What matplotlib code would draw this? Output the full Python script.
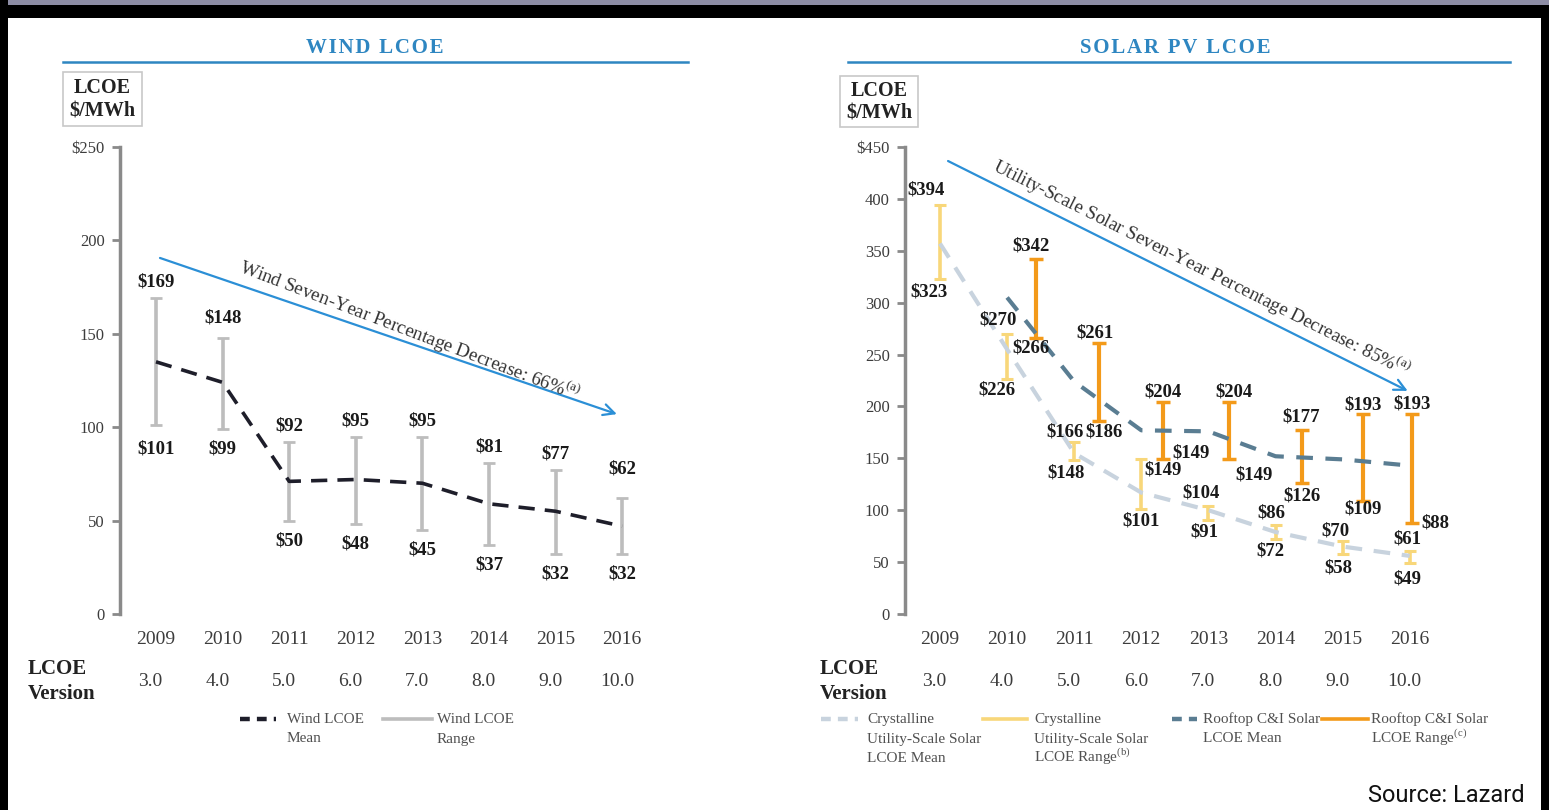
import matplotlib
matplotlib.use('Agg')
import matplotlib.pyplot as plt
import numpy as np
from matplotlib.lines import Line2D
from matplotlib.patches import Rectangle

plt.rcParams['font.family'] = ['Liberation Serif', 'DejaVu Serif']
plt.rcParams['mathtext.fontset'] = 'stix'

# ---------------- data ----------------
years = ['2009', '2010', '2011', '2012', '2013', '2014', '2015', '2016']
versions = ['3.0', '4.0', '5.0', '6.0', '7.0', '8.0', '9.0', '10.0']

wind_high = [169, 148, 92, 95, 95, 81, 77, 62]
wind_low = [101, 99, 50, 48, 45, 37, 32, 32]
wind_mean = [135, 124, 71, 72, 70, 59, 55, 47]

util_high = [394, 270, 166, 149, 104, 86, 70, 61]
util_low = [323, 226, 148, 101, 91, 72, 58, 49]
util_mean = [357, 255, 155, 117, 100, 79, 65, 56]

roof_high = [np.nan, 342, 261, 204, 204, 177, 193, 193]
roof_low = [np.nan, 266, 186, 149, 149, 126, 109, 88]
roof_mean = [np.nan, 305, 224, 177, 176, 152, 149, 143]

wind_yticks = [0, 50, 100, 150, 200, 250]
wind_yticklabels = ['0', '50', '100', '150', '200', '$250']
solar_yticks = [0, 50, 100, 150, 200, 250, 300, 350, 400, 450]
solar_yticklabels = ['0', '50', '100', '150', '200', '250', '300', '350', '400', '$450']

# ---------------- style ----------------
BLUE = '#2E86C1'
ARROW = '#2B8FD6'
GREY_BAR = '#BDBDBD'
WIND_MEAN = '#1E1E2A'
YELLOW = '#F8D77A'
ORANGE = '#F39A1A'
UTIL_MEAN = '#C8D3DE'
ROOF_MEAN = '#5A7D92'
AXIS = '#8a8a8a'
TXT = '#3c3c3c'
HS = '\u200a'

W, H = 1549, 810
fig = plt.figure(figsize=(W / 100, H / 100), dpi=100)
fig.patch.set_facecolor('white')


def fx(p):
    return p / W


def fy(p):
    return 1 - p / H


def frect(x0, y0, x1, y1, color, fill=True, lw=0, z=0):
    fig.add_artist(Rectangle((fx(x0), fy(y1)), fx(x1) - fx(x0), fy(y0) - fy(y1),
                             transform=fig.transFigure, facecolor=color if fill else 'none',
                             edgecolor=color, lw=lw, zorder=z, fill=fill))


# frame
frect(0, 0, W, 5, '#8e8ea6')
frect(0, 5, W, 18, 'black')
frect(0, 0, 8, H, 'black')
frect(1541, 5, W, H, 'black')


def make_axes(left, right, top, bottom, x0, step, ymax, yt, ytl):
    ax = fig.add_axes([fx(left), fy(bottom), fx(right) - fx(left), (bottom - top) / H])
    ax.set_xlim((left - x0) / step, (right - x0) / step)
    ax.set_ylim(0, ymax)
    ax.patch.set_alpha(0)
    for s in ['top', 'right', 'bottom']:
        ax.spines[s].set_visible(False)
    ax.spines['left'].set_color(AXIS)
    ax.spines['left'].set_linewidth(2.5)
    ax.set_yticks(yt)
    ax.set_yticklabels(ytl)
    ax.tick_params(axis='y', length=6, width=2, color=AXIS, labelsize=12,
                   labelcolor=TXT, pad=5)
    ax.set_xticks(range(len(years)))
    ax.set_xticklabels(years)
    ax.tick_params(axis='x', length=0, labelsize=14, labelcolor=TXT, pad=12)
    vy = (bottom - 682) / (bottom - top)
    for i, v in enumerate(versions):
        ax.text(i - 0.08, vy, v, transform=ax.get_xaxis_transform(), ha='center',
                va='center', fontsize=14, color=TXT)
    return ax


def label(ax, x, v, dx, dy):
    ax.annotate(f'${v:g}', xy=(x, v), xytext=(dx * 0.72, dy * 0.72),
                textcoords='offset points', ha='center', va='center',
                fontsize=13.5, fontweight='bold', color='#1a1a1a', zorder=6)


def slope_text(ax, p0, p1, center, text, dang=0.0):
    ax.annotate('', xy=p1, xytext=p0,
                arrowprops=dict(arrowstyle='->,head_length=0.8,head_width=0.4',
                                color=ARROW, lw=1.6, shrinkA=0, shrinkB=0))
    a = ax.transData.transform([p0, p1])
    ang = np.degrees(np.arctan2(a[1, 1] - a[0, 1], a[1, 0] - a[0, 0])) + dang
    ax.text(center[0], center[1], text, rotation=ang, rotation_mode='anchor',
            ha='center', va='center', fontsize=13.8, color='#333333')


def title(cx, text, x0, x1):
    fig.text(fx(cx), fy(48), HS.join(text), ha='center', va='center', fontsize=15,
             fontweight='bold', color=BLUE)
    fig.add_artist(Line2D([fx(x0), fx(x1)], [fy(62), fy(62)], color=BLUE, lw=1.8))


def unit_box(x0, y0, x1, y1):
    frect(x0, y0, x1, y1, '#c8c8c8', fill=False, lw=1.2)
    cx = fx((x0 + x1) / 2)
    cy = (y0 + y1) / 2
    fig.text(cx, fy(cy - 11), 'LCOE', ha='center', va='center', fontsize=14.5,
             fontweight='bold', color='#222222')
    fig.text(cx, fy(cy + 12), '$/MWh', ha='center', va='center', fontsize=14.5,
             fontweight='bold', color='#222222')


def version_label(x):
    fig.text(fx(x), fy(669), 'LCOE', ha='left', va='center', fontsize=15,
             fontweight='bold', color='#222222')
    fig.text(fx(x), fy(694), 'Version', ha='left', va='center', fontsize=15,
             fontweight='bold', color='#222222')


def leg_entry(x0, x1, y, color, ls, lw, tx, lines):
    fig.add_artist(Line2D([fx(x0), fx(x1)], [fy(y), fy(y)], color=color, ls=ls, lw=lw))
    for k, s in enumerate(lines):
        fig.text(fx(tx), fy(y + 4 + 19.5 * k), s, ha='left', va='baseline',
                 fontsize=11, color='#505050')


# ================= WIND =================
title(375, 'WIND LCOE', 63, 688)
unit_box(63, 72, 142, 126)
version_label(28)

ax1 = make_axes(120, 680, 147, 614, 156, 66.6, 250, wind_yticks, wind_yticklabels)
x = np.arange(len(years))
wh = np.array(wind_high, float)
wl = np.array(wind_low, float)
ax1.errorbar(x, (wh + wl) / 2, yerr=[(wh - wl) / 2, (wh - wl) / 2], fmt='none',
             ecolor=GREY_BAR, elinewidth=2.6, capsize=4.5, capthick=2, zorder=2)
ax1.plot(x, wind_mean, color=WIND_MEAN, lw=2.6, ls=(0, (4.5, 2.8)), zorder=3)

wind_hi_off = {1: 20, 7: 29}
wind_lo_off = {0: 24}
for i in range(len(years)):
    label(ax1, i, wind_high[i], 0, wind_hi_off.get(i, 16))
    label(ax1, i, wind_low[i], 0, -wind_lo_off.get(i, 20))

slope_text(ax1, (0.06, 190.6), (6.92, 107), (3.82, 152),
           r'Wind Seven-Year Percentage Decrease: 66%$^{\mathregular{(a)}}$', dang=-2.0)

leg_entry(240, 276, 719, WIND_MEAN, (0, (2.2, 1.6)), 3.2, 287, ['Wind LCOE', 'Mean'])
leg_entry(383, 432, 719, GREY_BAR, '-', 2.6, 437, ['Wind LCOE', 'Range'])

# ================= SOLAR =================
title(1175, 'SOLAR PV LCOE', 848, 1510)
unit_box(840, 76, 918, 127)
version_label(820)

ax2 = make_axes(905, 1515, 147, 614, 940, 67.1, 450, solar_yticks, solar_yticklabels)
uh = np.array(util_high, float)
ul = np.array(util_low, float)
rh = np.array(roof_high, float)
rl = np.array(roof_low, float)
roof_dx = np.array([0, 0.43, 0.37, 0.33, 0.30, 0.39, 0.30, 0.03])
xr = x + roof_dx

ax2.errorbar(x, (uh + ul) / 2, yerr=[(uh - ul) / 2, (uh - ul) / 2], fmt='none',
             ecolor=YELLOW, elinewidth=2.6, capsize=4.5, capthick=2.2, zorder=2)
ax2.errorbar(xr, (rh + rl) / 2, yerr=[(rh - rl) / 2, (rh - rl) / 2], fmt='none',
             ecolor=ORANGE, elinewidth=3, capsize=5, capthick=2.5, zorder=2)
ax2.plot(x, util_mean, color=UTIL_MEAN, lw=3, ls=(0, (4.0, 2.8)), zorder=3)
ax2.plot(x, roof_mean, color=ROOF_MEAN, lw=3, ls=(0, (4.0, 3.0)), zorder=3)

# label offsets (px): (dx, dy) with dy positive = up
util_hi_off = [(-14, 15), (-9, 14), (-9, 10), (50, 6), (-7, 13), (-4, 12), (-7, 10), (-2, 12)]
util_lo_off = [(-11, -13), (-10, -11), (-8, -13), (0, -12), (-4, -12), (-5, -12), (-4, -14), (-2, -16)]
roof_hi_off = [None, (-5, 13), (-4, 10), (0, 10), (5, 10), (0, 13), (0, 9), (0, 10)]
roof_lo_off = [None, (-5, -10), (5, -11), (0, -11), (26, -16), (0, -13), (0, -8), (24, 0)]

for i in range(len(years)):
    label(ax2, x[i], util_high[i], *util_hi_off[i])
    label(ax2, x[i], util_low[i], *util_lo_off[i])
    if not np.isnan(roof_high[i]):
        label(ax2, xr[i], roof_high[i], *roof_hi_off[i])
        label(ax2, xr[i], roof_low[i], *roof_lo_off[i])

slope_text(ax2, (0.12, 436.5), (6.97, 215), (3.90, 334),
           r'Utility-Scale Solar Seven-Year Percentage Decrease: 85%$^{\mathregular{(a)}}$')

leg_entry(821, 858, 719, UTIL_MEAN, (0, (2.2, 1.6)), 3.2, 867,
          ['Crystalline', 'Utility-Scale Solar', 'LCOE Mean'])
leg_entry(983, 1027, 719, YELLOW, '-', 2.6, 1034,
          ['Crystalline', 'Utility-Scale Solar', r'LCOE Range$^{\mathregular{(b)}}$'])
leg_entry(1172, 1197, 719, ROOF_MEAN, (0, (2.2, 1.6)), 3.2, 1203,
          ['Rooftop C&I Solar', 'LCOE Mean'])
leg_entry(1322, 1368, 719, ORANGE, '-', 2.6, 1371,
          ['Rooftop C&I Solar', r'LCOE Range$^{\mathregular{(c)}}$'])

fig.text(fx(1525), fy(795), 'Source: Lazard', ha='right', va='center', fontsize=17,
         family=['Roboto', 'DejaVu Sans'], color='#111111')

fig.savefig('out.png', dpi=100)
